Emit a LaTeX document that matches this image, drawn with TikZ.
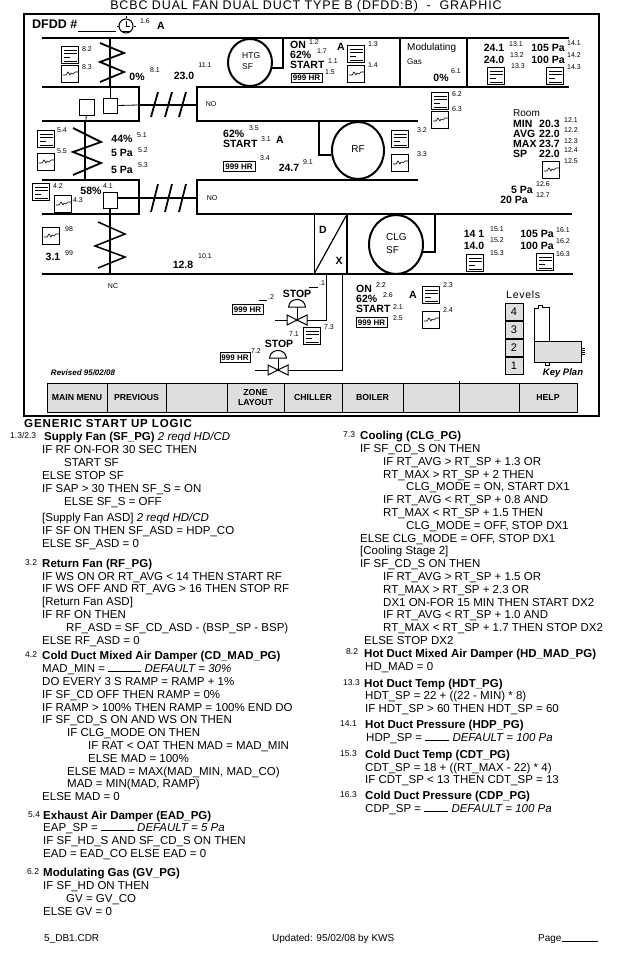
\documentclass[tikz,border=0pt]{standalone}
\usepackage{fontspec}
\setmainfont{Liberation Sans}
\newfontfamily\spacedfont[LetterSpace=7]{Liberation Sans}
\usetikzlibrary{shapes.geometric}

\tikzset{
	duct/.style={line width=2pt},
	link/.style={line width=0.8pt},
	coil/.style={line width=1.8pt},
	txt/.style={anchor=base west, yshift=-4pt, inner sep=0pt, font=\fontsize{11.5}{13}\selectfont},
	head/.style={txt, font=\fontsize{11.5}{13}\selectfont\bfseries},
	tag/.style={anchor=base, yshift=-2.5pt, inner sep=0pt, font=\fontsize{7}{8}\selectfont},
	tagw/.style={tag, anchor=base west},
	val/.style={anchor=base, yshift=-3.7pt, inner sep=0pt, font=\fontsize{10.5}{12}\selectfont\bfseries},
	valw/.style={val, anchor=base west},
	plain/.style={inner sep=0pt, font=\fontsize{8.5}{10}\selectfont},
	hrbox/.style={draw, line width=0.9pt, inner sep=0pt, minimum height=9.5pt, font=\fontsize{8}{9}\selectfont\bfseries},
	damperbox/.style={draw, line width=0.8pt, inner sep=0pt},
	fan/.style={draw, ellipse, line width=2pt, inner sep=0pt},
	button/.style={draw, line width=0.8pt, fill=black!13, inner sep=0pt, align=center, minimum height=29pt, font=\fontsize{8.7}{9.5}\selectfont\bfseries},
	levelbox/.style={draw, line width=0.8pt, fill=black!13, inner sep=0pt, minimum width=18pt, minimum height=17pt, font=\fontsize{11}{12}\selectfont},
	footer/.style={tagw, font=\fontsize{10}{11}\selectfont},
	logictag/.style={tagw, font=\fontsize{8.5}{9}\selectfont},
	listicon/.style={draw, line width=0.8pt, minimum size=17pt, inner sep=0pt, path picture={
		\path (path picture bounding box.center) coordinate (ic);
		\draw[line width=0.7pt] (ic) ++(-6,-5) -- ++(13,0);
		\draw[line width=0.7pt] (ic) ++(-6,-1.3) -- ++(13,0);
		\draw[line width=0.7pt] (ic) ++(-6,2.7) -- ++(6,0);
		\draw[line width=1.1pt] (ic) ++(-6,6.4) -- ++(13,0);
	}},
	trendicon/.style={draw, line width=0.8pt, minimum size=17pt, inner sep=0pt, path picture={
		\path (path picture bounding box.center) coordinate (ic);
		\draw[line width=0.6pt] (ic) ++(-7,1) -- ++(3,0) -- ++(2,-3) -- ++(2,3) -- ++(1,-2) -- ++(2,1) -- ++(2,-2) -- ++(3,0);
	}}
}

\begin{document}
\begin{tikzpicture}[x=1pt, y=-1pt]
	\useasboundingbox (0,0) rectangle (636,955);

	%//frame and title
	\node [inner sep=0pt, anchor=base, font=\spacedfont\fontsize{12.5}{14}\selectfont] (title) at (306,9.5) {BCBC DUAL FAN DUAL DUCT TYPE B (DFDD:B)\ \ -\ \ GRAPHIC};
	\draw [duct] (24,14) rectangle (599,416);

	%//ducts
	\draw [duct] (42,38) -- (569,38);
	\draw [duct] (42,87) -- (139,87) -- (139,121) -- (42,121);
	\draw [duct] (569,87) -- (197,87) -- (197,121) -- (418,121);
	\draw [duct] (42,180) -- (139,180) -- (139,214) -- (42,214);
	\draw [duct] (418,180) -- (197,180) -- (197,214) -- (572,214);
	\draw [duct] (42,274) -- (573,274);
	\draw [duct] (400,38) -- (400,87);
	\draw [duct] (467,38) -- (467,87);
	\draw [link] (314,214) -- (314,274);
	\draw [duct] (347,214) -- (347,274);
	\draw [line width=1.2pt] (314,274) -- (346,216);
	\node [val] (dlabel) at (323,230) {D};
	\node [val] (xlabel) at (339,261) {X};

	%//fans
	\node [fan, minimum width=44pt, minimum height=47pt] (htg) at (250,62.5) {};
	\node [fan, minimum width=52pt, minimum height=57pt] (rf) at (358,150.5) {};
	\node [fan, minimum width=54pt, minimum height=59pt] (clg) at (396,244.5) {};
	\node [plain, anchor=west] (htgname) at (242,56) {HTG};
	\node [plain, anchor=west] (htgsf) at (242,67) {SF};
	\node [plain, font=\fontsize{10}{12}\selectfont] (rfname) at (358,149) {RF};
	\node [plain, anchor=west, font=\fontsize{10}{12}\selectfont] (clgname) at (386,237) {CLG};
	\node [plain, anchor=west, font=\fontsize{10}{12}\selectfont] (clgsf) at (386,250) {SF};
	\coordinate (htgtop) at (283,38);
	\coordinate (rftop) at (319,121);
	\coordinate (clgtop) at (435,214);
	\draw [duct] (htg.345) -| (htgtop);
	\draw [duct] (rf.190) -| (rftop);
	\draw [duct] (clg.345) -| (clgtop);

	%//coils
	\draw [duct] (110,38) -- (110,87);
	\draw [coil] (100,43) -- (124,53) -- (100,62) -- (124,72) -- (100,82);
	\draw [duct, line width=2.4pt] (85,121) -- (85,180);
	\draw [coil] (73,128) -- (101,142) -- (73,152) -- (101,163) -- (73,175);
	\draw [coil, line width=1.5pt] (98,222) -- (125,234) -- (95,246) -- (125,257) -- (98,268);

	%//dampers
	\node [damperbox, minimum width=14pt, minimum height=15pt] (hdbox) at (110,105.5) {};
	\node [damperbox, minimum width=15pt, minimum height=16pt] (exbox) at (86.5,107) {};
	\node [damperbox, minimum width=14pt, minimum height=16pt] (cdbox) at (110,200) {};
	\coordinate (hdfoot) at (110,87);
	\coordinate (exfoot) at (86,121);
	\coordinate (hdjoin) at (139,105);
	\coordinate (hdend) at (197,105);
	\coordinate (cdend) at (197,198);
	\coordinate (cdfoot) at (110,274);
	\draw [link] (hdfoot) -- (hdbox);
	\draw [link] (exfoot) -- (exbox);
	\draw [link] (hdbox.east) -- (hdjoin);
	\draw [duct] (hdjoin) -- (hdend);
	\draw [duct] (cdbox.east |- cdend) -- (cdend);
	\draw [line width=1.2pt] (cdbox) -- (cdfoot);
	\foreach \x in {151,165,179}
	\draw [coil] (\x,117) -- (\x+7,92);
	\foreach \x in {151,165,179}
	\draw [coil] (\x,212) -- (\x+7,184);

	%//list and trend icons
	\foreach \x/\y [count=\n] in {70/55,46/139,41/192,356/54,496/76,555/76,440/101,400/139,475/263,545/262,431/295,312/336}
	\node [listicon] (list\n) at (\x,\y) {};
	\foreach \x/\y [count=\n] in {70/74,46/162,63/204,51/236,356/74,440/120,400/163,551/170,431/320}
	\node [trendicon] (trend\n) at (\x,\y) {};

	%//top line
	\node [valw, font=\fontsize{12.5}{14}\selectfont\bfseries] (dfdd) at (32,25) {DFDD \#};
	\draw [link] (78,31) -- (116,31);
	\node [draw, circle, line width=1pt, minimum size=14pt, inner sep=0pt] (clock) at (126,26) {};
	\draw [link] (clock.center) -- +(0,-5);
	\draw [link] (clock.center) -- +(4,0);
	\draw [link] (clock.north) -- +(0,-2);
	\draw [link] (clock.west) -- +(-2,0);
	\draw [link] (clock.east) -- +(2,0);
	\draw [line width=1.2pt] (clock.south west) -- (clock.south east);

	%//bold values
	\foreach \x/\y/\val [count=\n] in {
		161/26/A, 137/77/0\%, 184/76/23.0, 341/47/A, 441/78/0\%,
		494/48/24.1, 494/60/24.0, 548/48/105 Pa, 548/60/100 Pa,
		522/190/5 Pa, 514/200/20 Pa,
		122/139/44\%, 122/153/5 Pa, 122/170/5 Pa, 91/191/58\%,
		280/140/A, 289/168/24.7, 53/257/3.1, 183/265/12.8,
		474/234/14 1, 474/246/14.0, 537/234/105 Pa, 537/246/100 Pa,
		413/295/A, 297/294/STOP, 279/344/STOP}
	\node [val] (val\n) at (\x,\y) {\val};
	\foreach \x/\y/\val [count=\n] in {
		290/45/ON, 290/55/62\%, 290/65/START,
		223/134/62\%, 223/144/START,
		356/289/ON, 356/299/62\%, 356/309/START,
		513/124/MIN, 513/134/AVG, 513/144/MAX, 513/154/SP,
		539/124/20.3, 539/134/22.0, 539/144/23.7, 539/154/22.0}
	\node [valw] (valw\n) at (\x,\y) {\val};

	%//small tags
	\foreach \x/\y/\val [count=\n] in {
		145/21/1.6, 87/49/8.2, 87/67/8.3, 155/70/8.1, 205/65/11.1,
		314/42/1.2, 322/51/1.7, 333/61/1.1, 330/72/1.5, 373/44/1.3, 373/65/1.4,
		456/71/6.1, 457/94/6.2, 457/109/6.3,
		516/44/13.1, 517/55/13.2, 518/66/13.3, 574/43/14.1, 574/55/14.2, 574/67/14.3,
		571/120/12.1, 571/130/12.2, 571/141/12.3, 571/150/12.4, 571/161/12.5,
		543/184/12.6, 543/195/12.7,
		62/130/5.4, 62/151/5.5, 142/135/5.1, 143/150/5.2, 143/165/5.3,
		58/186/4.2, 78/200/4.3, 108/186/4.1,
		211/104/NO, 212/198/NO, 113/286/NC,
		254/128/3.5, 266/139/3.1, 265/158/3.4, 308/162/9.1, 422/130/3.2, 422/154/3.3,
		69/229/98, 69/253/99, 205/256/10.1,
		271/297/.2, 322/283/.1, 294/334/7.1, 256/351/7.2, 329/327/7.3,
		497/229/15.1, 497/240/15.2, 497/253/15.3, 563/230/16.1, 563/241/16.2, 563/254/16.3,
		381/285/2.2, 388/295/2.6, 398/307/2.1, 398/318/2.5, 448/285/2.3, 448/310/2.4}
	\node [tag] (tag\n) at (\x,\y) {\val};
	\draw [link] (259,300) -- (267,300);
	\draw [link] (309,287) -- (318,287);

	\node [plain, anchor=west, font=\fontsize{10}{11}\selectfont] (modgas) at (407,48) {Modulating};
	\node [tagw, anchor=west, yshift=0pt, font=\fontsize{8}{9}\selectfont] (gas) at (407,59) {Gas};
	\node [plain, anchor=west, font=\fontsize{10}{11}\selectfont] (room) at (513,113) {Room};

	%//run hour boxes
	\node [hrbox, minimum width=31pt] (hours1) at (306.5,78) {999 HR};
	\node [hrbox, minimum width=32pt] (hours2) at (239,166.5) {999 HR};
	\node [hrbox, minimum width=31pt] (hours3) at (247.5,309.5) {999 HR};
	\node [hrbox, minimum width=30pt] (hours4) at (235,357.5) {999 HR};
	\node [hrbox, minimum width=31pt] (hours5) at (371.5,322.5) {999 HR};

	%//valves
	\def\xv{297}
	\def\yv{320}
	\draw [line width=1pt] (\xv-10,\yv-5) -- (\xv+10,\yv+5) -- (\xv+10,\yv-5) -- (\xv-10,\yv+5) -- cycle;
	\fill (\xv,\yv) circle (1.5);
	\draw [link] (\xv,\yv) -- (\xv,\yv-13);
	\draw [line width=1pt] (\xv-8.5,\yv-13) .. controls +(1,-10) and +(-1,-10) .. (\xv+8.5,\yv-13) -- cycle;
	\coordinate (vone) at (\xv-10,\yv);
	\coordinate (voneout) at (\xv+10,\yv);
	\coordinate (voneend) at (275,\yv);
	\coordinate (vonetop) at (326,274);
	\draw [link] (voneend) -- (vone);
	\draw [link] (voneout) -| (vonetop);

	\def\xv{278}
	\def\yv{370}
	\draw [line width=1pt] (\xv-10,\yv-5) -- (\xv+10,\yv+5) -- (\xv+10,\yv-5) -- (\xv-10,\yv+5) -- cycle;
	\fill (\xv,\yv) circle (1.5);
	\draw [link] (\xv,\yv) -- (\xv,\yv-12);
	\draw [line width=1pt] (\xv-8.5,\yv-12) .. controls +(1,-10) and +(-1,-10) .. (\xv+8.5,\yv-12) -- cycle;
	\coordinate (vtwo) at (\xv-10,\yv);
	\coordinate (vtwoout) at (\xv+10,\yv);
	\coordinate (vtwoend) at (255,\yv);
	\coordinate (vtwotop) at (342,274);
	\draw [link] (vtwoend) -- (vtwo);
	\draw [link] (vtwoout) -| (vtwotop);

	%//levels and key plan
	\node [plain, anchor=west, font=\spacedfont\fontsize{10.5}{12}\selectfont] (levels) at (506,295) {Levels};
	\foreach \y/\val in {311.5/4,330/3,347.5/2,366/1}
	\node [levelbox] (level\val) at (514,\y) {\val};
	\draw [link] (534,341) -- (534,308) -- (538,308) -- (538,305) -- (542,305) -- (542,307) -- (549,307) -- (549,341);
	\node [draw, line width=0.8pt, fill=black!13, inner sep=0pt, minimum width=47pt, minimum height=21pt] (keyblock) at (557.5,351.5) {};
	\draw [link] (545,362) rectangle (549,365);
	\foreach \y in {348,350,352,354}
	\draw [line width=0.5pt] (581,\y) -- (585,\y);
	\node [inner sep=0pt, font=\fontsize{9.5}{11}\selectfont\bfseries\itshape] (keyplan) at (563,373) {Key Plan};
	\node [inner sep=0pt, font=\fontsize{8}{9}\selectfont\bfseries\itshape] (revised) at (83,373) {Revised 95/02/08};

	%//menu
	\foreach \xa/\xb/\val [count=\n] in {47/107/MAIN MENU, 107/166/PREVIOUS, 166/227/, 227/284/{ZONE\\LAYOUT}, 284/342/CHILLER, 342/403/BOILER, 403/459/, 459/519/, 519/577/HELP}
	\node [button, minimum width={(\xb-\xa)*1pt}] (menu\n) at ({(\xa+\xb)/2},397.5) {\val};
	\draw [link] (menu7.north east) -- +(0,-2);

	%//logic text, left column
	\node [inner sep=0pt, anchor=base west, font=\spacedfont\bfseries\fontsize{11.6}{13}\selectfont] (logic) at (24,427) {GENERIC START UP LOGIC};
	\foreach \x/\y/\val [count=\n] in {
		10/436/{1.3/2.3}, 25/563/3.2, 25/655/4.2, 28/815/5.4, 27/872/6.2,
		343/435/7.3, 346/652/8.2, 343/683/13.3, 340/724/14.1, 340/754/15.3, 340/795/16.3}
	\node [logictag] (logictag\n) at (\x,\y) {\val};
	\foreach \x/\y/\val [count=\n] in {
		44/436/{Supply Fan (SF\_PG) {\mdseries\itshape 2 reqd HD/CD}},
		42/563/{Return Fan (RF\_PG)},
		42/655/{Cold Duct Mixed Air Damper (CD\_MAD\_PG)},
		43/815/{Exhaust Air Damper (EAD\_PG)},
		43/872/{Modulating Gas (GV\_PG)},
		360/435/{Cooling (CLG\_PG)},
		364/653/{Hot Duct Mixed Air Damper (HD\_MAD\_PG)},
		364/683/{Hot Duct Temp (HDT\_PG)},
		365/724/{Hot Duct Pressure (HDP\_PG)},
		365/754/{Cold Duct Temp (CDT\_PG)},
		365/795/{Cold Duct Pressure (CDP\_PG)}}
	\node [head] (head\n) at (\x,\y) {\val};
	\foreach \x/\y/\val [count=\n] in {
		42/449/{IF RF ON-FOR 30 SEC THEN},
		64/462/{START SF},
		42/475/{ELSE STOP SF},
		42/488/{IF SAP > 30 THEN SF\_S = ON},
		64/501/{ELSE SF\_S = OFF},
		42/517/{[Supply Fan ASD] {\itshape 2 reqd HD/CD}},
		42/530/{IF SF ON THEN SF\_ASD = HDP\_CO},
		42/543/{ELSE SF\_ASD = 0},
		42/576/{IF WS ON OR RT\_AVG < 14 THEN START RF},
		42/588/{IF WS OFF AND RT\_AVG > 16 THEN STOP RF},
		42/601/{[Return Fan ASD]},
		42/614/{IF RF ON THEN},
		66/627/{RF\_ASD = SF\_CD\_ASD - (BSP\_SP - BSP)},
		42/640/{ELSE RF\_ASD = 0},
		42/668/{MAD\_MIN = \rule{33pt}{0.6pt} {\itshape DEFAULT = 30\%}},
		42/681/{DO EVERY 3 S RAMP = RAMP + 1\%},
		42/694/{IF SF\_CD OFF THEN RAMP = 0\%},
		42/707/{IF RAMP > 100\% THEN RAMP = 100\% END DO},
		42/719/{IF SF\_CD\_S ON AND WS ON THEN},
		67/732/{IF CLG\_MODE ON THEN},
		88/745/{IF RAT < OAT THEN MAD = MAD\_MIN},
		88/758/{ELSE MAD = 100\%},
		67/771/{ELSE MAD = MAX(MAD\_MIN, MAD\_CO)},
		67/783/{MAD = MIN(MAD, RAMP)},
		42/796/{ELSE MAD = 0},
		43/827/{EAP\_SP = \rule{33pt}{0.6pt} {\itshape DEFAULT = 5 Pa}},
		43/840/{IF SF\_HD\_S AND SF\_CD\_S ON THEN},
		43/853/{EAD = EAD\_CO ELSE EAD = 0},
		43/885/{IF SF\_HD ON THEN},
		66/898/{GV = GV\_CO},
		43/911/{ELSE GV = 0}}
	\node [txt] (left\n) at (\x,\y) {\val};

	%//logic text, right column
	\foreach \x/\y/\val [count=\n] in {
		360/448/{IF SF\_CD\_S ON THEN},
		383/461/{IF RT\_AVG > RT\_SP + 1.3 OR},
		383/474/{RT\_MAX > RT\_SP + 2 THEN},
		406/486/{CLG\_MODE = ON, START DX1},
		383/499/{IF RT\_AVG < RT\_SP + 0.8 AND},
		383/512/{RT\_MAX < RT\_SP + 1.5 THEN},
		406/525/{CLG\_MODE = OFF, STOP DX1},
		360/538/{ELSE CLG\_MODE = OFF, STOP DX1},
		360/550/{[Cooling Stage 2]},
		360/563/{IF SF\_CD\_S ON THEN},
		383/576/{IF RT\_AVG > RT\_SP + 1.5 OR},
		383/589/{RT\_MAX > RT\_SP + 2.3 OR},
		383/602/{DX1 ON-FOR 15 MIN THEN START DX2},
		383/614/{IF RT\_AVG < RT\_SP + 1.0 AND},
		383/627/{RT\_MAX < RT\_SP + 1.7 THEN STOP DX2},
		364/640/{ELSE STOP DX2},
		365/666/{HD\_MAD = 0},
		365/695/{HDT\_SP = 22 + ((22 - MIN) * 8)},
		365/708/{IF HDT\_SP > 60 THEN HDT\_SP = 60},
		366/737/{HDP\_SP = \rule{24pt}{0.6pt} {\itshape DEFAULT = 100 Pa}},
		365/767/{CDT\_SP = 18 + ((RT\_MAX - 22) * 4)},
		365/779/{IF CDT\_SP < 13 THEN CDT\_SP = 13},
		365/808/{CDP\_SP = \rule{24pt}{0.6pt} {\itshape DEFAULT = 100 Pa}}}
	\node [txt] (right\n) at (\x,\y) {\val};

	%//footer
	\node [footer] (file) at (44,939) {5\_DB1.CDR};
	\node [footer] (updated) at (272,939) {Updated: 95/02/08 by KWS};
	\node [footer] (page) at (538,939) {Page\rule{36pt}{0.6pt}};
\end{tikzpicture}
\end{document}
